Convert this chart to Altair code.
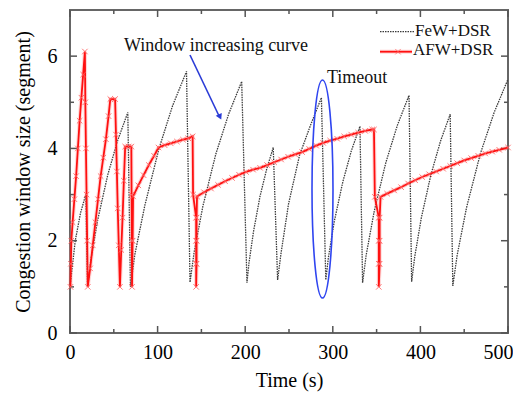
import altair as alt
import pandas as pd

# ---- data ----
few_t = [0, 6, 12, 18, 20, 23.7, 31.5, 43, 54.5, 66, 69, 74, 85.5, 101.5, 117, 133,
         137, 141.7, 151.7, 166.5, 181.2, 196, 202, 204.4, 209.5, 217, 224.5, 232,
         237, 241, 249.5, 262, 274.5, 287, 292, 295.1, 301.7, 311.5, 321.2, 331,
         334, 338.2, 347.2, 360.5, 373.7, 387, 390, 393.5, 401, 412, 423, 434,
         437, 442, 452.7, 468.5, 484.2, 500]
few_y = [1.0, 2.0, 2.6, 3.0, 1.0, 1.57, 2.44, 3.42, 4.18, 4.78, 1.0, 1.70, 2.77, 3.99, 4.92, 5.67,
         1.1, 1.75, 2.75, 3.88, 4.75, 5.45, 1.09, 1.53, 2.20, 2.97, 3.55, 4.02,
         1.15, 1.74, 2.8, 3.85, 4.5, 5.1, 1.15, 1.65, 2.42, 3.28, 3.95, 4.48,
         1.09, 1.70, 2.63, 3.69, 4.50, 5.15, 1.11, 1.65, 2.49, 3.43, 4.16, 4.74,
         1.02, 1.69, 2.72, 3.89, 4.78, 5.5]

afw_t = [0.5, 1, 1.5, 3, 5, 7, 9, 11, 13, 15, 17,
         17.5, 18.2, 18.9, 19.6, 20.3,
         23, 26, 29, 32, 35, 38, 41, 44, 46, 51.5,
         52.5, 53.5, 54.5, 55.7, 57,
         58.5, 60, 61.5, 63, 66.8, 70,
         70.3, 70.6, 70.8, 71.5, 72,
         78, 84, 90, 96, 101, 108, 115, 122, 129, 135, 140,
         140.5, 144, 144, 144, 144, 144.5, 144.5, 144.5, 145,
         153, 161, 169, 177, 185, 193, 201, 209, 217, 225, 233, 241, 249, 257, 265,
         273, 281, 289, 297, 305, 313, 321, 329, 337, 345, 347,
         348, 352.5, 352.5, 352.5, 352.5, 353.5, 353.5, 353.5, 354.5,
         362, 370, 378, 386, 394, 402, 410, 418, 426, 434, 442, 450, 458, 466, 474,
         482, 490, 500]
afw_y = [1.0, 1.5, 2.0, 2.4, 2.9, 3.4, 4.0, 4.6, 5.1, 5.6, 6.1,
         5.0, 4.0, 3.0, 2.0, 1.0,
         1.4, 1.9, 2.4, 2.9, 3.4, 3.8, 4.2, 4.7, 5.07, 5.07,
         4.3, 3.5, 2.7, 1.9, 1.0,
         1.8, 2.5, 3.3, 4.04, 4.04, 4.04,
         3.0, 2.0, 1.0, 2.0, 2.96,
         3.2, 3.42, 3.64, 3.84, 4.02, 4.07, 4.11, 4.15, 4.19, 4.22, 4.26,
         3.0, 2.5, 2.0, 1.5, 1.0, 1.5, 2.0, 2.5, 2.96,
         3.05, 3.13, 3.21, 3.29, 3.36, 3.43, 3.49, 3.54, 3.58, 3.64, 3.70, 3.76, 3.82, 3.87, 3.92,
         3.99, 4.06, 4.12, 4.17, 4.21, 4.26, 4.30, 4.34, 4.38, 4.41, 4.41,
         2.95, 2.5, 2.0, 1.5, 1.0, 1.5, 2.0, 2.5, 2.95,
         3.02, 3.09, 3.16, 3.24, 3.31, 3.38, 3.44, 3.50, 3.56, 3.62, 3.68, 3.74, 3.79, 3.84, 3.89,
         3.93, 3.97, 4.02]

x_major = [0, 100, 200, 300, 400, 500]
x_minor = [50, 150, 250, 350, 450]
y_major = [0, 2, 4, 6]
y_minor = [1, 3, 5]

series_names = ["FeW+DSR", "AFW+DSR"]
annotations = ["Window increasing curve", "Timeout"]

FONT = "Liberation Serif, Times New Roman, Times, serif"
W, H = 438, 323

few = pd.DataFrame({"t": few_t, "w": few_y, "i": list(range(len(few_t)))})
afw = pd.DataFrame({"t": afw_t, "w": afw_y, "i": list(range(len(afw_t)))})

xs = alt.Scale(domain=[0, 500], nice=False, zero=False)
ys = alt.Scale(domain=[0, 7], nice=False)

x_axis = alt.Axis(values=x_major, title="Time (s)", grid=False, domain=False, ticks=False,
                  tickSize=0, labelFont=FONT, labelFontSize=20, labelColor="black",
                  labelPadding=9, titleFont=FONT, titleFontSize=20, titleFontWeight="normal",
                  titleColor="black", titlePadding=8, labelFlush=True, labelFlushOffset=5)
y_axis = alt.Axis(values=y_major, title="Congestion window size (segment)", grid=False,
                  domain=False, ticks=False, tickSize=0, labelFont=FONT, labelFontSize=20,
                  labelColor="black", labelPadding=13, titleFont=FONT, titleFontSize=20,
                  titleFontWeight="normal", titleColor="black", titlePadding=14, labelFlush=False)

XE = alt.X("t:Q", scale=xs, axis=x_axis)
YE = alt.Y("w:Q", scale=ys, axis=y_axis)

black = alt.Chart(few).mark_line(color="#3a3a3a", strokeWidth=1.3, strokeDash=[1.5, 1]).encode(
    x=XE, y=YE, order="i:Q")

red_band = alt.Chart(afw).mark_line(color="#ff7a7a", strokeWidth=4, opacity=0.3).encode(
    x=XE, y=YE, order="i:Q")
red_line = alt.Chart(afw).mark_line(color="#ff1010", strokeWidth=1.8).encode(
    x=XE, y=YE, order="i:Q")
XSHAPE = "M-1,-1L1,1M-1,1L1,-1"
red_pts = alt.Chart(afw).mark_point(shape=XSHAPE, size=30, filled=False, color="#ff6060",
                                    strokeWidth=1, opacity=0.85).encode(x=XE, y=YE)

# inward ticks
xt_major = pd.DataFrame({"t": x_major})
xt_minor = pd.DataFrame({"t": x_minor})
yt_major = pd.DataFrame({"w": y_major})
yt_minor = pd.DataFrame({"w": y_minor})
tick_col = "#555555"

def xticks(df, L):
    b = alt.Chart(df).mark_rule(color=tick_col, strokeWidth=1.5).encode(
        x=XE, y=alt.value(H), y2=alt.value(H - L))
    t = alt.Chart(df).mark_rule(color=tick_col, strokeWidth=1.5).encode(
        x=XE, y=alt.value(0), y2=alt.value(L))
    return b + t

def yticks(df, L):
    l = alt.Chart(df).mark_rule(color=tick_col, strokeWidth=1.5).encode(
        y=YE, x=alt.value(0), x2=alt.value(L))
    r = alt.Chart(df).mark_rule(color=tick_col, strokeWidth=1.5).encode(
        y=YE, x=alt.value(W), x2=alt.value(W - L))
    return l + r

ticks = xticks(xt_major, 7) + xticks(xt_minor, 4) + yticks(yt_major, 7) + yticks(yt_minor, 4)

# annotations
txt_win = alt.Chart(pd.DataFrame({"s": [annotations[0]]})).mark_text(
    font=FONT, fontSize=18, color="#111111", align="center", baseline="alphabetic").encode(
    text="s:N", x=alt.value(146), y=alt.value(40.7))
txt_to = alt.Chart(pd.DataFrame({"s": [annotations[1]]})).mark_text(
    font=FONT, fontSize=18, color="#111111", align="left", baseline="alphabetic").encode(
    text="s:N", x=alt.value(257), y=alt.value(73))
arrow_line = alt.Chart(pd.DataFrame({"a": [0]})).mark_rule(color="#2a3bd6", strokeWidth=1.6).encode(
    x=alt.value(120), y=alt.value(45), x2=alt.value(150), y2=alt.value(108))
arrow_head = alt.Chart(pd.DataFrame({"a": [0]})).mark_point(
    shape="triangle-up", filled=True, color="#2a3bd6", size=45, angle=154.5, opacity=1).encode(
    x=alt.value(150), y=alt.value(107))
ELL = ("M0,-1 C0.0532,-1 0.0963,-0.5523 0.0963,0 C0.0963,0.5523 0.0532,1 0,1 "
       "C-0.0532,1 -0.0963,0.5523 -0.0963,0 C-0.0963,-0.5523 -0.0532,-1 0,-1 Z")
ellipse = alt.Chart(pd.DataFrame({"a": [0]})).mark_point(
    shape=ELL, filled=False, color="#2f45f0", strokeWidth=1.6, size=47524, opacity=1).encode(
    x=alt.value(252.5), y=alt.value(179))

# legend
leg_df = pd.DataFrame({"s": [series_names[0]]})
leg_df2 = pd.DataFrame({"s": [series_names[1]]})
leg1_line = alt.Chart(leg_df).mark_rule(color="#3a3a3a", strokeWidth=1.3, strokeDash=[1.5, 1]).encode(
    x=alt.value(310), x2=alt.value(344), y=alt.value(21.7))
leg1_txt = alt.Chart(leg_df).mark_text(font=FONT, fontSize=17, color="#111111", align="left",
                                       baseline="middle").encode(
    text="s:N", x=alt.value(345), y=alt.value(20.5))
leg2_band = alt.Chart(leg_df2).mark_rule(color="#ff7a7a", strokeWidth=4, opacity=0.3).encode(
    x=alt.value(310), x2=alt.value(342), y=alt.value(41.7))
leg2_line = alt.Chart(leg_df2).mark_rule(color="#ff1010", strokeWidth=1.8).encode(
    x=alt.value(310), x2=alt.value(342), y=alt.value(41.7))
leg2_pt = alt.Chart(leg_df2).mark_point(shape=XSHAPE, size=30, filled=False, color="#ff6060",
                                        strokeWidth=1).encode(x=alt.value(328), y=alt.value(41.7))
leg2_txt = alt.Chart(leg_df2).mark_text(font=FONT, fontSize=17, color="#111111", align="left",
                                        baseline="middle").encode(
    text="s:N", x=alt.value(343), y=alt.value(40))

chart = alt.layer(
    black, ticks, red_band, red_line, red_pts,
    ellipse, arrow_line, arrow_head, txt_win, txt_to,
    leg1_line, leg1_txt, leg2_band, leg2_line, leg2_pt, leg2_txt,
).properties(
    width=W, height=H,
    autosize=alt.AutoSizeParams(type="none"),
    padding={"left": 62, "top": 2, "right": 5, "bottom": 64},
    background="white",
).configure_view(stroke="#666666", strokeWidth=2)

chart.save("out.html", embed_options={"renderer": "svg", "actions": False})
